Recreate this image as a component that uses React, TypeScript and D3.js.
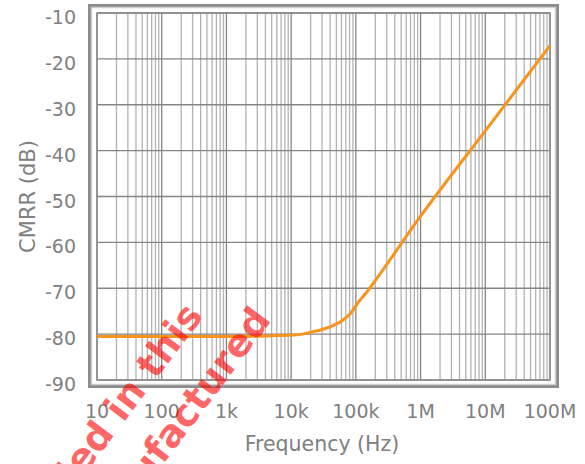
import React from "react";
import * as d3 from "d3";

const freqHz = [10, 100, 1000, 3000, 5000, 10000, 15000, 20000, 30000, 45000, 65000, 85000, 110000, 150000, 200000, 1e6, 1e7, 1e8];
const cmrrDb = [-80.5, -80.5, -80.5, -80.45, -80.35, -80.2, -80.0, -79.6, -79.0, -78.1, -76.8, -75.3, -73.0, -70.7, -68.3, -54.3, -35.7, -17.1];
const xTickValues = [10, 100, 1e3, 1e4, 1e5, 1e6, 1e7, 1e8];
const xTickLabels = ["10", "100", "1k", "10k", "100k", "1M", "10M", "100M"];
const yTickValues = [-10, -20, -30, -40, -50, -60, -70, -80, -90];
const xTitle = "Frequency (Hz)";
const yTitle = "CMRR (dB)";
const watermark1 = "Not recommended in this";
const watermark2 = "design. No longer manufactured";

const W = 585, H = 464;
const L = 97, R = 550, T = 13, B = 380;
const FONT = "'DejaVu Sans', sans-serif";

export default function App() {
  const x = d3.scaleLog().domain([10, 1e8]).range([L, R]);
  const y = d3.scaleLinear().domain([-90, -10]).range([B, T]);

  const minor: number[] = [];
  for (let d = 10; d < 1e8; d *= 10) {
    for (let k = 2; k <= 9; k++) minor.push(d * k);
  }

  const pts: [number, number][] = freqHz.map((f, i) => [f, cmrrDb[i]]);
  const line = d3
    .line<[number, number]>()
    .x((d) => x(d[0]))
    .y((d) => y(d[1]))
    .curve(d3.curveMonotoneX);

  return (
    <svg
      width={W}
      height={H}
      style={{ position: "absolute", left: 0, top: 0, background: "#fff" }}
    >
      <rect x={0} y={0} width={W} height={H} fill="#fff" />
      {/* outer frame */}
      <rect x={89.5} y={5.5} width={468} height={381} fill="none" stroke="#8c8c8c" strokeWidth={3} />
      <rect x={91.5} y={7.5} width={464} height={377} fill="none" stroke="#cfcfcf" strokeWidth={1.5} />
      {/* minor vertical grid */}
      {minor.map((f) => (
        <line key={"m" + f} x1={x(f)} x2={x(f)} y1={T} y2={B} stroke="#b2b2b2" strokeWidth={1.3} />
      ))}
      {/* horizontal grid */}
      {yTickValues.map((v) => (
        <line key={"h" + v} x1={L} x2={R} y1={y(v)} y2={y(v)} stroke="#858585" strokeWidth={1.3} />
      ))}
      {/* major vertical grid */}
      {xTickValues.map((f) => (
        <line key={"M" + f} x1={x(f)} x2={x(f)} y1={T} y2={B} stroke="#858585" strokeWidth={1.3} />
      ))}
      {/* inner plot border */}
      <rect x={L} y={T} width={R - L} height={B - T} fill="none" stroke="#8c8c8c" strokeWidth={1.5} />

      <path d={line(pts) || ""} fill="none" stroke="#f7941d" strokeWidth={3} strokeLinejoin="round" />

      {/* y ticks */}
      {yTickValues.map((v) => (
        <text key={"yt" + v} x={76} y={y(v) + 11} textAnchor="end" fontFamily={FONT} fontSize={19} fill="#808080">
          {v}
        </text>
      ))}
      {/* x ticks */}
      {xTickValues.map((f, i) => (
        <text key={"xt" + f} x={x(f)} y={418} textAnchor="middle" fontFamily={FONT} fontSize={19} fill="#808080">
          {xTickLabels[i]}
        </text>
      ))}
      <text x={322} y={451} textAnchor="middle" fontFamily={FONT} fontSize={20.5} fill="#808080">
        {xTitle}
      </text>
      <text
        transform={`translate(35, ${(T + B) / 2}) rotate(-90)`}
        textAnchor="middle"
        fontFamily={FONT}
        fontSize={21}
        fill="#808080"
      >
        {yTitle}
      </text>

      {/* watermark */}
      <g fill="#ff0000" fillOpacity={0.6} fontFamily="'DejaVu Sans', sans-serif" fontWeight="bold" fontSize={38}>
        <text transform="translate(204, 316) rotate(-53)" textAnchor="end">{watermark1}</text>
        <text transform="translate(272, 320) rotate(-53)" textAnchor="end">{watermark2}</text>
      </g>
    </svg>
  );
}
